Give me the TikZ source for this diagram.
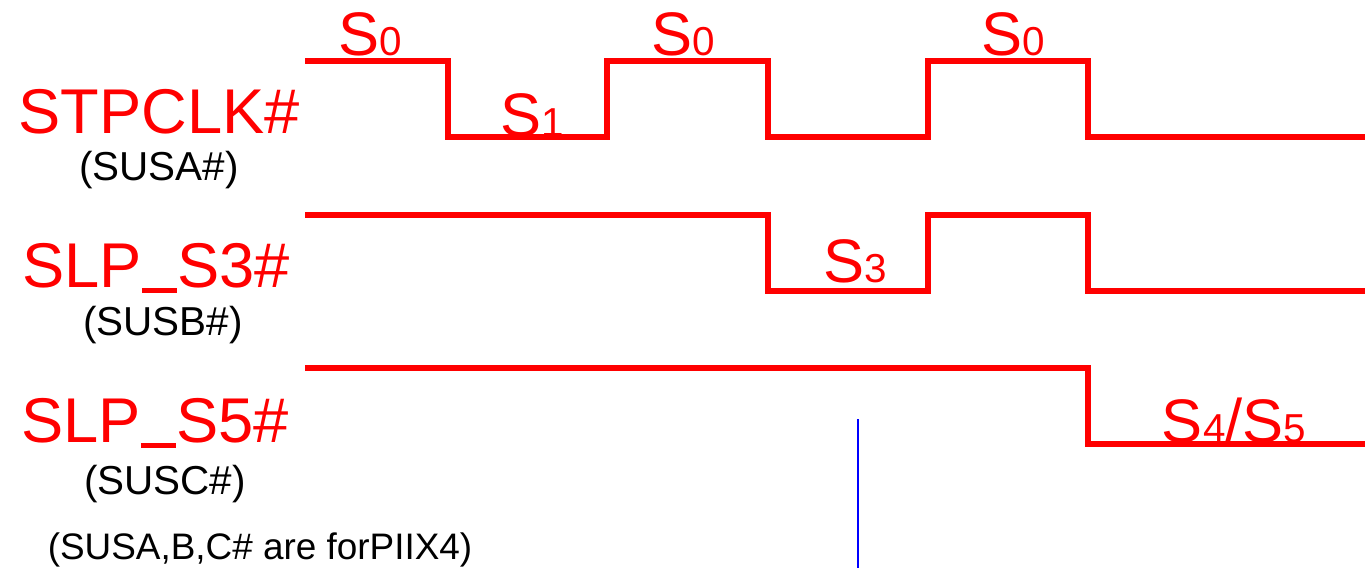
\documentclass[tikz,border=0pt]{standalone}
\usepackage{fontspec}
\setmainfont{Liberation Sans}
\tikzstyle{sig}=[draw=red,line width=3.6pt]
\tikzstyle{signame}=[text=red,font=\fontsize{36}{36}\selectfont,inner sep=0pt,anchor=base]
\tikzstyle{aliaslab}=[text=black,font=\fontsize{23}{23}\selectfont,inner sep=0pt,anchor=base]
\tikzstyle{stlabel}=[text=red,font=\fontsize{35}{35}\selectfont,inner sep=0pt,anchor=base]
\newcommand{\stlab}[1]{S{\fontsize{23}{23}\selectfont #1}}
\newcommand{\usc}{\rule[-0.1em]{0.556em}{0.08em}}

\begin{document}
\begin{tikzpicture}[x=0.02cm,y=-0.02cm]
\useasboundingbox (0,0) rectangle (1365,568);
% signal names
\node[signame] (stpclk) at (159,133) {STPCLK\#};
\node[aliaslab] (susa) at (159,180) {(SUSA\#)};
\node[signame] (slps3) at (156,287) {SLP\usc S3\#};
\node[aliaslab] (susb) at (163,335) {(SUSB\#)};
\node[signame] (slps5) at (155,442) {SLP\usc S5\#};
\node[aliaslab] (susc) at (165,494) {(SUSC\#)};
\node[aliaslab,font=\fontsize{21}{21}\selectfont] (note) at (260,559) {(SUSA,B,C\# are forPIIX4)};

% states
\foreach \x in {370,683,1013}{\node[stlabel] (s0-\x) at (\x,55) {\stlab{0}};}
\node[stlabel] (s1) at (532,136) {\stlab{1}};
\node[stlabel] (s3) at (855,282) {\stlab{3}};
\node[stlabel] (s45) at (1234,442) {\stlab{4}/\stlab{5}};

% waveforms
\draw[sig] (305,61) -- (448,61) -- (448,137) -- (607,137) -- (607,61) -- (768,61)
  -- (768,137) -- (928,137) -- (928,61) -- (1088,61) -- (1088,137) -- (1365,137);
\draw[sig] (305,215) -- (768,215) -- (768,291) -- (928,291) -- (928,215)
  -- (1088,215) -- (1088,291) -- (1365,291);
\draw[sig] (305,368) -- (1088,368) -- (1088,444) -- (1365,444);

\draw[blue,line width=1.1pt] (858,419) -- (858,568);
\end{tikzpicture}
\end{document}
